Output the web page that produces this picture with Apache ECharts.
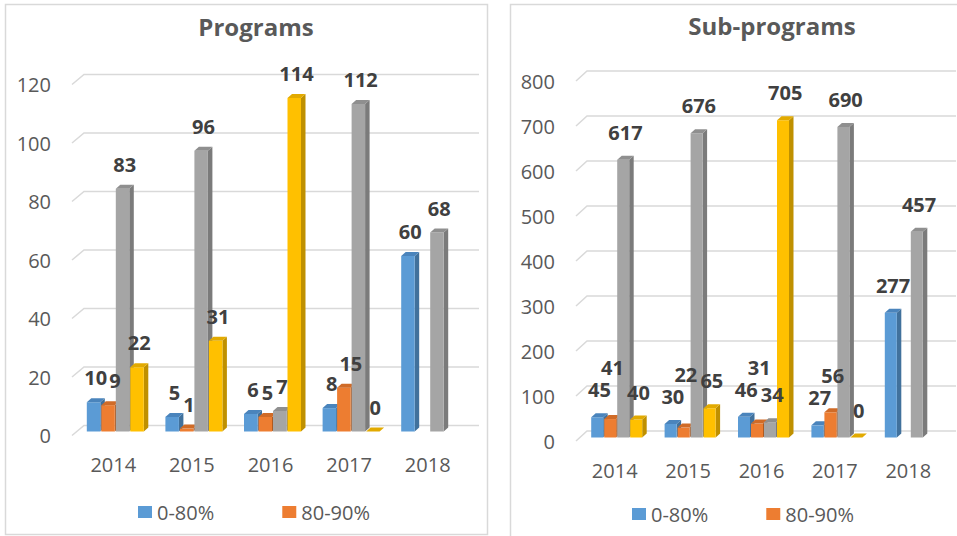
<!DOCTYPE html>
<html>
<head>
<meta charset="utf-8">
<title>Programs / Sub-programs</title>
<script src="https://cdn.jsdelivr.net/npm/echarts@6/dist/echarts.min.js"></script>
<style>
  html, body { margin: 0; padding: 0; background: #fff; }
  #chart { width: 957px; height: 536px; }
</style>
</head>
<body>
<div id="chart"></div>
<script>
var years = ['2014', '2015', '2016', '2017', '2018'];
var seriesNames = ['0-80%', '80-90%', '90-100%', '>100%'];
var legendNames = ['0-80%', '80-90%'];

// Programs
var prog0to80 = [10, 5, 6, 8, 60];
var prog80to90 = [9, 1, 5, 15, null];
var prog90to100 = [83, 96, 7, 112, 68];
var progOver100 = [22, 31, 114, 0, null];
var progTicks = [0, 20, 40, 60, 80, 100, 120];

// Sub-programs
var sub0to80 = [45, 30, 46, 27, 277];
var sub80to90 = [41, 22, 31, 56, null];
var sub90to100 = [617, 676, 34, 690, 457];
var subOver100 = [40, 65, 705, 0, null];
var subTicks = [0, 100, 200, 300, 400, 500, 600, 700, 800];

var palette = [
  { front: '#5B9BD5', side: '#41719C', top: '#4A84BC' },
  { front: '#ED7D31', side: '#AE5A21', top: '#D06B27' },
  { front: '#A5A5A5', side: '#7B7B7B', top: '#8F8F8F' },
  { front: '#FFC000', side: '#BF9000', top: '#E2AA00' }
];
var textColor = '#595959';
var gridColor = '#D9D9D9';
var font = 'Open Sans';
var DX = 4.5, DY = 4;   // depth of the 3D bars
var LABEL_H = 22;       // vertical step used to keep value labels apart
var DIGIT_W = 11.5;

function toData(arr) {
  return arr.map(function (v, i) { return [i, v === null ? '-' : v]; });
}

// pixel box of bar k in category cat
function barBox(g, k, cat, v, api) {
  var base = api.coord([cat, 0]);
  var top = api.coord([cat, v]);
  var x0 = base[0] + g.shiftX + (k - 1.5) * g.pitch - g.w / 2;
  return { x0: x0, x1: x0 + g.w, y0: base[1] + g.shiftY, y1: top[1] + g.shiftY };
}

// label spots for all bars of one category: small clashes push sideways, big ones push up
function labelSpots(g, cat, api) {
  var spots = [];
  for (var j = 0; j < g.sets.length; j++) {
    var v = g.sets[j][cat];
    if (v === null) { spots.push(null); continue; }
    var b = barBox(g, j, cat, v, api);
    var s = { x: b.x0 + g.w / 2 + DX / 2, y: b.y1 - DY - g.labelGap, w: String(v).length * DIGIT_W };
    var moved = true;
    while (moved) {
      moved = false;
      for (var i = 0; i < spots.length; i++) {
        var o = spots[i];
        if (!o) continue;
        var need = (s.w + o.w) / 2 + 2;
        var overlapX = need - Math.abs(s.x - o.x);
        if (overlapX > 0 && Math.abs(s.y - o.y) < LABEL_H - 0.5) {
          if (overlapX <= 6) s.x += overlapX;
          else s.y = o.y - LABEL_H;
          moved = true;
        }
      }
    }
    spots.push(s);
  }
  return spots;
}

// 3D-looking bar: front face, right side and top cap
function barRenderer(g, k) {
  return function (params, api) {
    var v = api.value(1);
    if (isNaN(v)) return;
    var b = barBox(g, k, api.value(0), v, api);
    var c = palette[k];
    var x0 = b.x0, x1 = b.x1, y0 = b.y0, y1 = b.y1;
    return {
      type: 'group',
      children: [
        { type: 'polygon', shape: { points: [[x1, y1], [x1 + DX, y1 - DY], [x1 + DX, y0 - DY], [x1, y0]] }, style: { fill: c.side } },
        { type: 'rect', shape: { x: x0, y: y1, width: g.w, height: y0 - y1 }, style: { fill: c.front } },
        { type: 'polygon', shape: { points: [[x0, y1], [x0 + DX, y1 - DY], [x1 + DX, y1 - DY], [x1, y1]] }, style: { fill: c.top } }
      ]
    };
  };
}

// value label above each bar, drawn on top of all bars
function labelRenderer(g, k) {
  return function (params, api) {
    var v = api.value(1);
    if (isNaN(v)) return;
    var s = labelSpots(g, api.value(0), api)[k];
    return {
      type: 'text', x: s.x, y: s.y,
      style: { text: String(v), fill: '#404040', fontSize: 20, fontWeight: 'bold', fontFamily: font, align: 'center', verticalAlign: 'middle' }
    };
  };
}

// back-wall gridlines with the short slanted floor edge on the left
function wallRenderer(ox, oy) {
  return function (params, api) {
    var y = api.coord([0, api.value(1)])[1];
    var cs = params.coordSys;
    return {
      type: 'polyline',
      shape: { points: [[cs.x - 2, y], [cs.x - 2 + ox, y - oy], [cs.x + cs.width + ox, y - oy]] },
      style: { stroke: gridColor, lineWidth: 1.5, fill: null }
    };
  };
}

var progGeom = { sets: [prog0to80, prog80to90, prog90to100, progOver100], pitch: 14.5, w: 13.5, shiftX: 2, shiftY: -4, labelGap: 20.5 };
var subGeom = { sets: [sub0to80, sub80to90, sub90to100, subOver100], pitch: 13, w: 12, shiftX: 2, shiftY: -3.5, labelGap: 23.5 };

var series = [
  { type: 'custom', name: 'wall-p', xAxisIndex: 0, yAxisIndex: 0, silent: true, z: 1,
    data: progTicks.map(function (t) { return [0, t]; }), renderItem: wallRenderer(12, 10) },
  { type: 'custom', name: 'wall-s', xAxisIndex: 1, yAxisIndex: 1, silent: true, z: 1,
    data: subTicks.map(function (t) { return [0, t]; }), renderItem: wallRenderer(11, 10) }
];
[progGeom, subGeom].forEach(function (g, idx) {
  g.sets.forEach(function (arr, k) {
    series.push({
      type: 'custom', name: seriesNames[k], xAxisIndex: idx, yAxisIndex: idx, z: 2 + k,
      itemStyle: { color: palette[k].front },
      data: toData(arr), renderItem: barRenderer(g, k)
    });
    series.push({
      type: 'custom', name: 'label ' + seriesNames[k], xAxisIndex: idx, yAxisIndex: idx, z: 20, silent: true,
      data: toData(arr), renderItem: labelRenderer(g, k)
    });
  });
});

function catAxis(idx) {
  return {
    type: 'category', gridIndex: idx, data: years,
    axisLine: { show: false }, axisTick: { show: false }, splitLine: { show: false },
    axisLabel: { color: textColor, fontSize: 20, fontFamily: font, margin: 19 }
  };
}
function valAxis(idx, max, step) {
  return {
    type: 'value', gridIndex: idx, min: 0, max: max, interval: step,
    axisLine: { show: false }, axisTick: { show: false }, splitLine: { show: false },
    axisLabel: { color: textColor, fontSize: 20, fontFamily: font, margin: 23 }
  };
}

var legendStyle = { color: textColor, fontSize: 20, fontFamily: font };

var chart = echarts.init(document.getElementById('chart'), null, { renderer: 'svg' });
chart.setOption({
  backgroundColor: '#fff',
  animation: false,
  title: [
    { text: 'Programs', left: 251, top: 9, textAlign: 'center',
      textStyle: { color: textColor, fontSize: 24, fontWeight: 'bold', fontFamily: font } },
    { text: 'Sub-programs', left: 767, top: 8, textAlign: 'center',
      textStyle: { color: textColor, fontSize: 24, fontWeight: 'bold', fontFamily: font } }
  ],
  legend: [
    { data: legendNames, left: 133, top: 497, icon: 'rect', itemWidth: 14, itemHeight: 12, itemGap: 68, textStyle: legendStyle },
    { data: legendNames, left: 627, top: 499, icon: 'rect', itemWidth: 14, itemHeight: 12, itemGap: 58, textStyle: legendStyle }
  ],
  grid: [
    { left: 74, top: 84.5, width: 393, bottom: 100.5 },
    { left: 578, top: 81, width: 367, bottom: 95 }
  ],
  xAxis: [catAxis(0), catAxis(1)],
  yAxis: [valAxis(0, 120, 20), valAxis(1, 800, 100)],
  graphic: [
    { type: 'rect', silent: true, shape: { x: 5.5, y: 4.5, width: 482, height: 530 }, style: { fill: null, stroke: gridColor, lineWidth: 1.5 } },
    { type: 'rect', silent: true, shape: { x: 510.5, y: 4.5, width: 470, height: 545 }, style: { fill: null, stroke: gridColor, lineWidth: 1.5 } }
  ],
  series: series
});
</script>
</body>
</html>
